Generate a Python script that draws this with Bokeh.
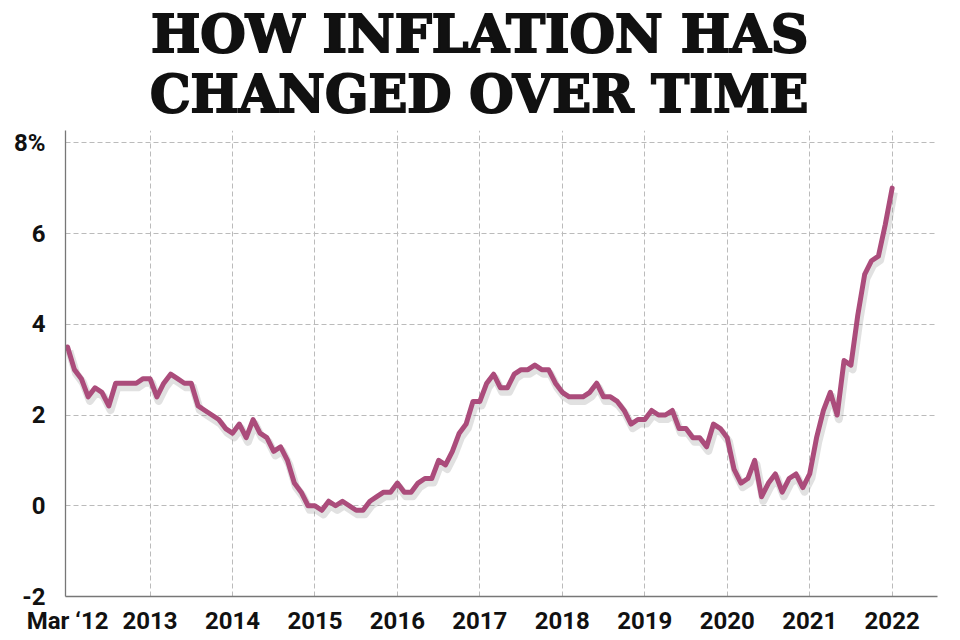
from bokeh.plotting import figure
from bokeh.models import FixedTicker, ColumnDataSource, Div
from bokeh.layouts import column
from bokeh.transform import dodge
from bokeh.embed import file_html
from bokeh.resources import INLINE

# UK CPI annual rate, monthly, Mar 2012 - Mar 2022
cpi_2012 = [3.5, 3.0, 2.8, 2.4, 2.6, 2.5, 2.2, 2.7, 2.7, 2.7]           # Mar-Dec
cpi_2013 = [2.7, 2.8, 2.8, 2.4, 2.7, 2.9, 2.8, 2.7, 2.7, 2.2, 2.1, 2.0]
cpi_2014 = [1.9, 1.7, 1.6, 1.8, 1.5, 1.9, 1.6, 1.5, 1.2, 1.3, 1.0, 0.5]
cpi_2015 = [0.3, 0.0, 0.0, -0.1, 0.1, 0.0, 0.1, 0.0, -0.1, -0.1, 0.1, 0.2]
cpi_2016 = [0.3, 0.3, 0.5, 0.3, 0.3, 0.5, 0.6, 0.6, 1.0, 0.9, 1.2, 1.6]
cpi_2017 = [1.8, 2.3, 2.3, 2.7, 2.9, 2.6, 2.6, 2.9, 3.0, 3.0, 3.1, 3.0]
cpi_2018 = [3.0, 2.7, 2.5, 2.4, 2.4, 2.4, 2.5, 2.7, 2.4, 2.4, 2.3, 2.1]
cpi_2019 = [1.8, 1.9, 1.9, 2.1, 2.0, 2.0, 2.1, 1.7, 1.7, 1.5, 1.5, 1.3]
cpi_2020 = [1.8, 1.7, 1.5, 0.8, 0.5, 0.6, 1.0, 0.2, 0.5, 0.7, 0.3, 0.6]
cpi_2021 = [0.7, 0.4, 0.7, 1.5, 2.1, 2.5, 2.0, 3.2, 3.1, 4.2, 5.1, 5.4]
cpi_2022 = [5.5, 6.2, 7.0]                                               # Jan-Mar

x_tick_labels = ["Mar \u201812", "2013", "2014", "2015", "2016", "2017",
                 "2018", "2019", "2020", "2021", "2022"]
y_ticks = [-2, 0, 2, 4, 6, 8]
y_tick_labels = ["-2", "0", "2", "4", "6", "8%"]

title_line1 = "HOW INFLATION HAS"
title_line2 = "CHANGED OVER TIME"

values = (cpi_2012 + cpi_2013 + cpi_2014 + cpi_2015 + cpi_2016 + cpi_2017
          + cpi_2018 + cpi_2019 + cpi_2020 + cpi_2021 + cpi_2022)
months = list(range(len(values)))   # months since Mar 2012
x_ticks = [12 * i for i in range(len(x_tick_labels))]

src = ColumnDataSource(dict(x=months, y=values))

span_style = ("display:inline-block;white-space:nowrap;position:relative;"
              "transform-origin:center;-webkit-text-stroke:2px #111;")
title_html = (
    '<div style="width:952px;text-align:center;font-family:\'DejaVu Serif\';'
    'font-weight:bold;font-size:53px;line-height:60px;color:#111;margin-top:3px;">'
    f'<span style="{span_style}left:4px;transform:scaleX(0.985);">{title_line1}</span><br>'
    f'<span style="{span_style}left:3px;transform:scaleX(0.962);">{title_line2}</span>'
    '</div>'
)
title_div = Div(text=title_html, width=952, height=120, margin=0)

p = figure(width=952, height=519, output_backend="svg", toolbar_location=None,
           x_range=(-0.3, 126.6), y_range=(-2, 8.27),
           min_border_left=65, min_border_right=15, min_border_bottom=43,
           min_border_top=10, margin=0)
p.title = None
p.outline_line_color = None
p.background_fill_color = "white"
p.border_fill_color = "white"

# shadow
p.line(x=dodge("x", 0.25), y=dodge("y", -0.09), source=src,
       line_color="#888888", line_alpha=0.25, line_width=8, line_join="round")
p.line(x="x", y="y", source=src, line_color="#AB4C7B", line_width=5,
       line_join="round", line_cap="round")

p.xaxis.ticker = FixedTicker(ticks=x_ticks)
p.xaxis.major_label_overrides = {t: l for t, l in zip(x_ticks, x_tick_labels)}
p.yaxis.ticker = FixedTicker(ticks=y_ticks)
p.yaxis.major_label_overrides = {t: l for t, l in zip(y_ticks, y_tick_labels)}

for ax in (p.xaxis, p.yaxis):
    ax.axis_line_color = "#777777"
    ax.axis_line_width = 1.3
    ax.major_tick_line_color = None
    ax.minor_tick_line_color = None
    ax.major_label_text_font = "Roboto"
    ax.major_label_text_font_style = "bold"
    ax.major_label_text_font_size = "24px"
    ax.major_label_text_color = "#111111"
p.xaxis.major_label_standoff = 4
p.yaxis.major_label_standoff = 14

p.xgrid.ticker = FixedTicker(ticks=x_ticks[1:])
p.ygrid.ticker = FixedTicker(ticks=y_ticks[1:])
for g in (p.xgrid, p.ygrid):
    g.grid_line_color = "#bbbbbb"
    g.grid_line_dash = "5 3"
    g.grid_line_width = 1

layout = column(title_div, p, spacing=0)
open("out.html", "w").write(file_html(layout, INLINE))
